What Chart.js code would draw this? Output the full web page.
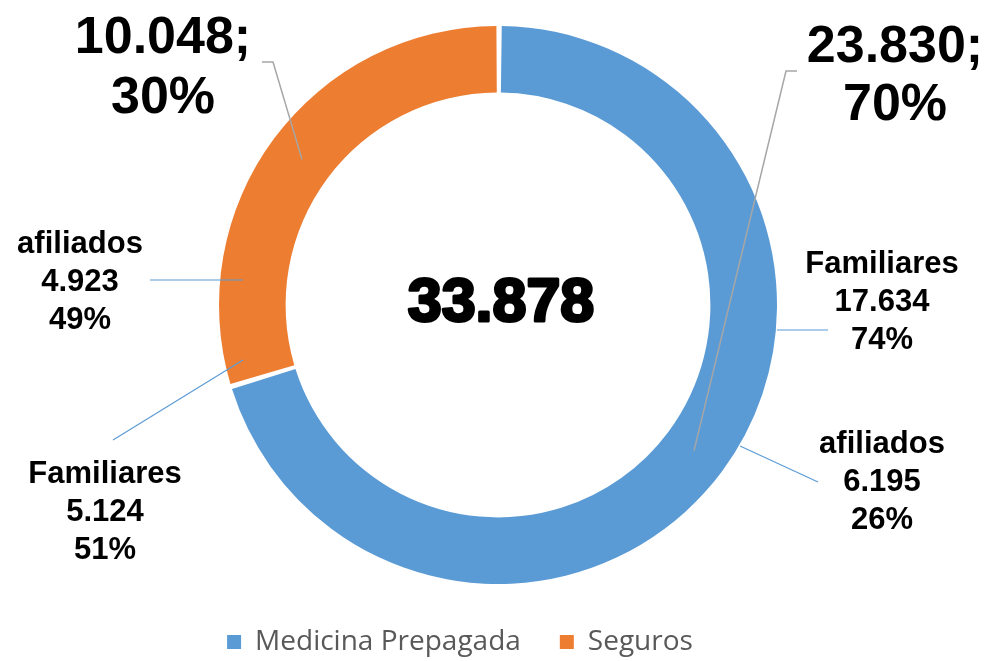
<!DOCTYPE html>
<html lang="es">
<head>
  <meta charset="UTF-8">
  <title>Medicina Prepagada y Seguros</title>
  <script src="https://cdn.jsdelivr.net/npm/chart.js"></script>
  <style>
    html, body {
      margin: 0;
      padding: 0;
      background: #fff;
    }

    .chart-box {
      position: relative;
      width: 991px;
      height: 661px;
    }
  </style>
</head>
<body>

<div class="chart-box">
  <canvas id="donutChart"></canvas>
</div>

<script>
  // totals per group
  const groups = ['Medicina Prepagada', 'Seguros'];
  const groupTotals = [23830, 10048];
  const groupShares = [70, 30];
  const groupColors = ['#5B9BD5', '#ED7D31'];

  // breakdown inside each group
  const subNames = ['Familiares', 'afiliados', 'afiliados', 'Familiares'];
  const subValues = [17634, 6195, 4923, 5124];
  const subShares = [74, 26, 49, 51];

  const grandTotal = 33878;

  // thousands separator with a dot
  function fmt(n) {
    return String(n).replace(/\B(?=(\d{3})+(?!\d))/g, '.');
  }

  // where the callouts sit, relative to the centre of the ring
  const groupCallouts = [
    { elbow: [288, -234], end: [299, -234], text: [397, -243], gap: 58 },
    { elbow: [-225, -243], end: [-236, -243], text: [-335, -252], gap: 60 }
  ];
  const subCallouts = [
    { from: [279, 25], to: [330, 25], text: [384, -32] },
    { from: [242, 141], to: [320, 177], text: [384, 148] },
    { from: [-255, -25], to: [-348, -25], text: [-418, -52] },
    { from: [-255, 55], to: [-385, 135], text: [-393, 178] }
  ];

  const calloutPlugin = {
    id: 'callouts',
    afterLayout(chart) {
      // legend sits a little left of the ring centre and a bit lower
      const lg = chart.legend;
      lg.left -= 76;
      lg.top += 5;
      lg.bottom += 5;
    },
    afterDatasetsDraw(chart) {
      const ctx = chart.ctx;
      const arcs = chart.getDatasetMeta(0).data;
      const cx = arcs[0].x;
      const cy = arcs[0].y;

      ctx.save();
      ctx.textAlign = 'center';
      ctx.textBaseline = 'alphabetic';
      ctx.fillStyle = '#000';

      // big value labels with grey leader lines
      arcs.forEach((arc, i) => {
        const mid = (arc.startAngle + arc.endAngle) / 2;
        const r = (arc.innerRadius + arc.outerRadius) / 2;
        const c = groupCallouts[i];
        ctx.strokeStyle = '#A6A6A6';
        ctx.lineWidth = 1.5;
        ctx.beginPath();
        ctx.moveTo(cx + Math.cos(mid) * r, cy + Math.sin(mid) * r);
        ctx.lineTo(cx + c.elbow[0], cy + c.elbow[1]);
        ctx.lineTo(cx + c.end[0], cy + c.end[1]);
        ctx.stroke();

        ctx.font = 'bold 52px "Liberation Sans", Arial, sans-serif';
        ctx.fillText(fmt(groupTotals[i]) + ';', cx + c.text[0], cy + c.text[1]);
        ctx.fillText(groupShares[i] + '%', cx + c.text[0], cy + c.text[1] + c.gap);
      });

      // breakdown labels with blue leader lines
      subValues.forEach((v, i) => {
        const c = subCallouts[i];
        ctx.strokeStyle = '#5B9BD5';
        ctx.lineWidth = 1.2;
        ctx.beginPath();
        ctx.moveTo(cx + c.from[0], cy + c.from[1]);
        ctx.lineTo(cx + c.to[0], cy + c.to[1]);
        ctx.stroke();

        ctx.font = 'bold 31px "Liberation Sans", Arial, sans-serif';
        const x = cx + c.text[0];
        const y = cy + c.text[1];
        ctx.fillText(subNames[i], x, y);
        ctx.fillText(fmt(v), x, y + 38);
        ctx.fillText(subShares[i] + '%', x, y + 76);
      });

      // grand total in the hole
      ctx.font = 'bold 61px "Liberation Sans", Arial, sans-serif';
      ctx.lineWidth = 3;
      ctx.lineJoin = 'round';
      ctx.strokeStyle = '#000';
      ctx.strokeText(fmt(grandTotal), cx + 3, cy + 16);
      ctx.fillText(fmt(grandTotal), cx + 3, cy + 16);
      ctx.restore();
    }
  };

  new Chart(document.getElementById('donutChart'), {
    type: 'doughnut',
    data: {
      labels: groups,
      datasets: [{
        data: groupTotals,
        backgroundColor: groupColors,
        borderWidth: 0,
        spacing: 3,
        cutout: '76%'
      }]
    },
    options: {
      responsive: true,
      maintainAspectRatio: false,
      animation: false,
      layout: {
        padding: { top: 26, left: 5, right: 0, bottom: 0 }
      },
      plugins: {
        legend: {
          position: 'bottom',
          labels: {
            boxWidth: 14,
            boxHeight: 14,
            padding: 39,
            color: '#595959',
            font: { family: '"Open Sans", sans-serif', size: 28 }
          }
        },
        tooltip: { enabled: false }
      }
    },
    plugins: [calloutPlugin]
  });
</script>

</body>
</html>
